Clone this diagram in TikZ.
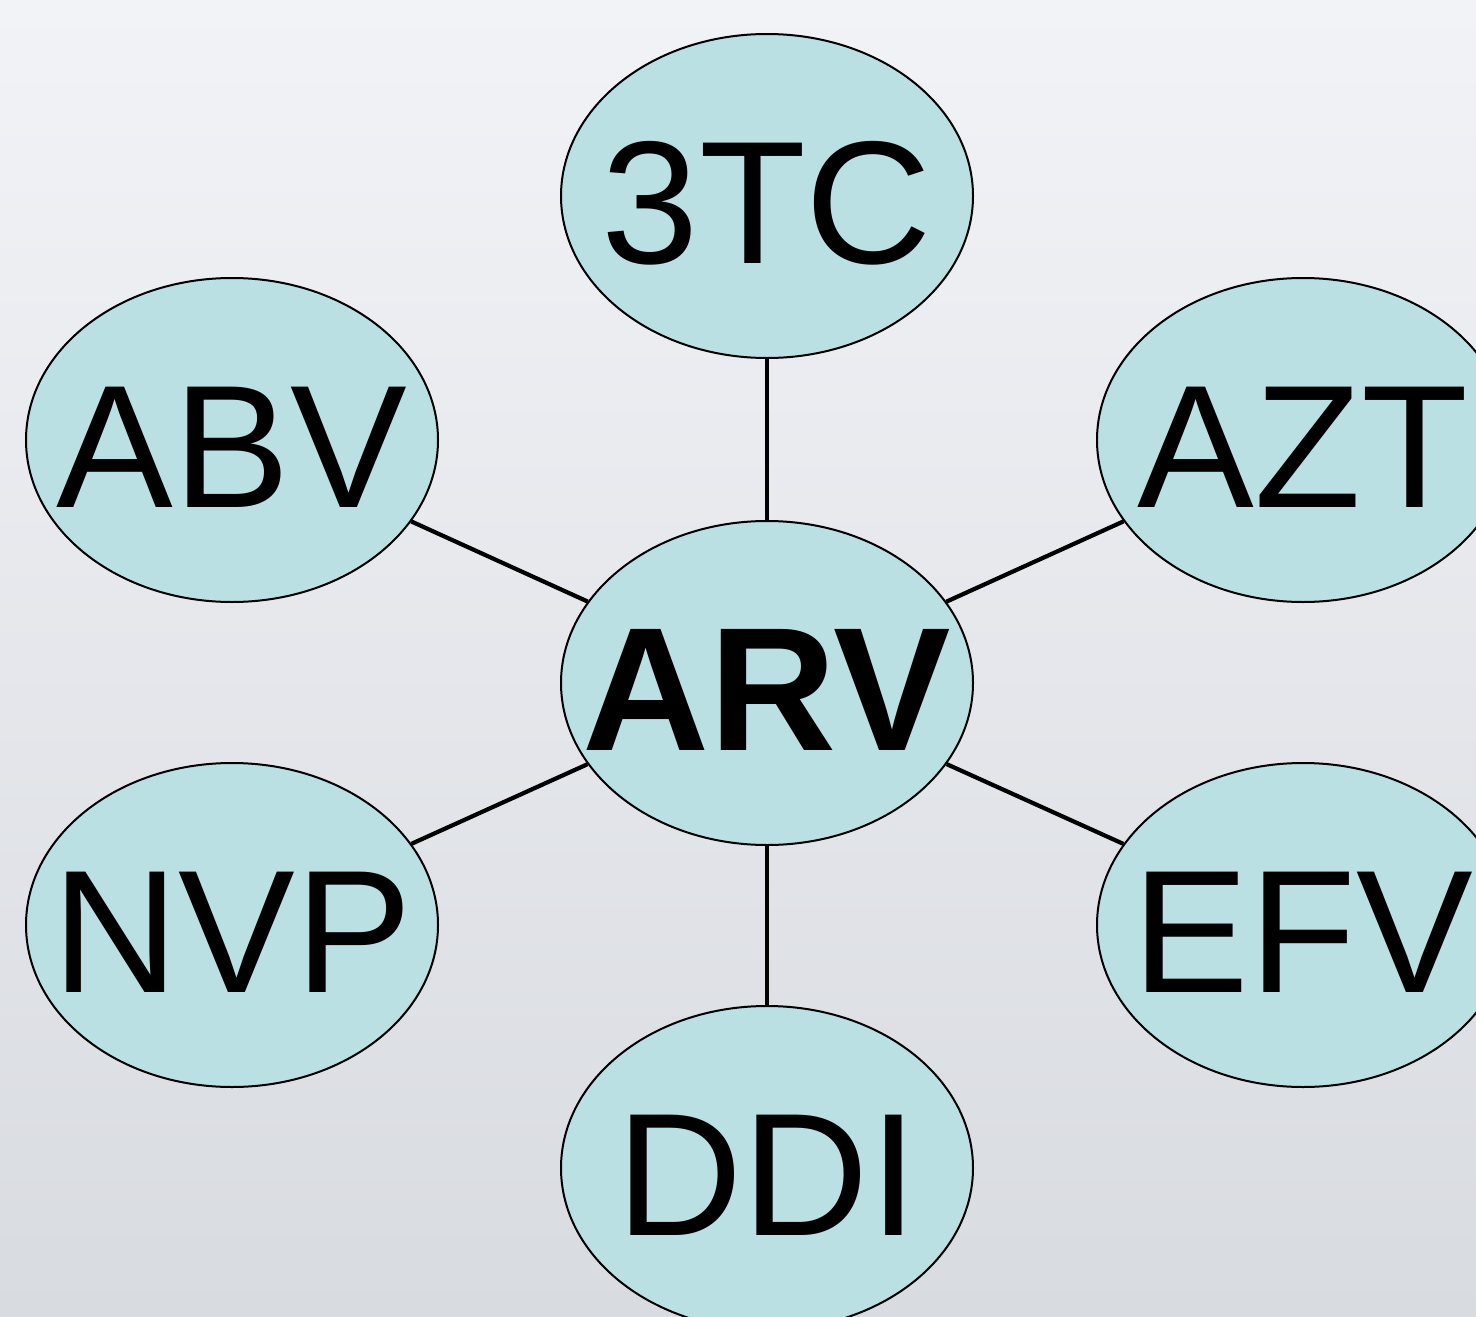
\documentclass[tikz,border=0pt]{standalone}
\usepackage{fontspec}
\setmainfont{Liberation Sans}
\usetikzlibrary{shapes.geometric}
\definecolor{bgtop}{RGB}{242,243,247}
\definecolor{bgbot}{RGB}{216,219,224}
\definecolor{ovalfill}{RGB}{186,224,228}
\tikzset{
  oval/.style={ellipse, draw=black, line width=2pt, fill=ovalfill,
    minimum width=412pt, minimum height=324pt, inner sep=0pt},
  lbl/.style={inner sep=0pt, text height=135pt, text depth=0pt,
    font=\fontsize{175}{200}\selectfont},
  link/.style={line width=4.2pt, draw=black}
}
\begin{document}
\begin{tikzpicture}[x=1pt,y=-1pt]
\useasboundingbox (0,0) rectangle (1476,1317);
\clip (0,0) rectangle (1476,1317);
\shade[top color=bgtop, bottom color=bgbot] (0,0) rectangle (1476,1317);
\node[oval] (arv) at (767,683) {};
\node[oval] (tc)  at (767,196) {};
\node[oval] (abv) at (232,440) {};
\node[oval] (azt) at (1303,440) {};
\node[oval] (nvp) at (232,925) {};
\node[oval] (efv) at (1303,925) {};
\node[oval] (ddi) at (767,1168) {};
\draw[link] (arv) -- (tc);
\draw[link] (arv) -- (abv);
\draw[link] (arv) -- (azt);
\draw[link] (arv) -- (nvp);
\draw[link] (arv) -- (efv);
\draw[link] (arv) -- (ddi);
\node[lbl, font=\fontsize{176}{200}\selectfont\bfseries] (larv) at (arv) {ARV};
\node[lbl] (ltc)  at (tc)  {3TC};
\node[lbl] (labv) at (abv) {ABV};
\node[lbl] (lazt) at (azt) {AZT};
\node[lbl] (lnvp) at (nvp) {NVP};
\node[lbl] (lefv) at (efv) {EFV};
\node[lbl] (lddi) at (ddi) {DDI};
\end{tikzpicture}
\end{document}
